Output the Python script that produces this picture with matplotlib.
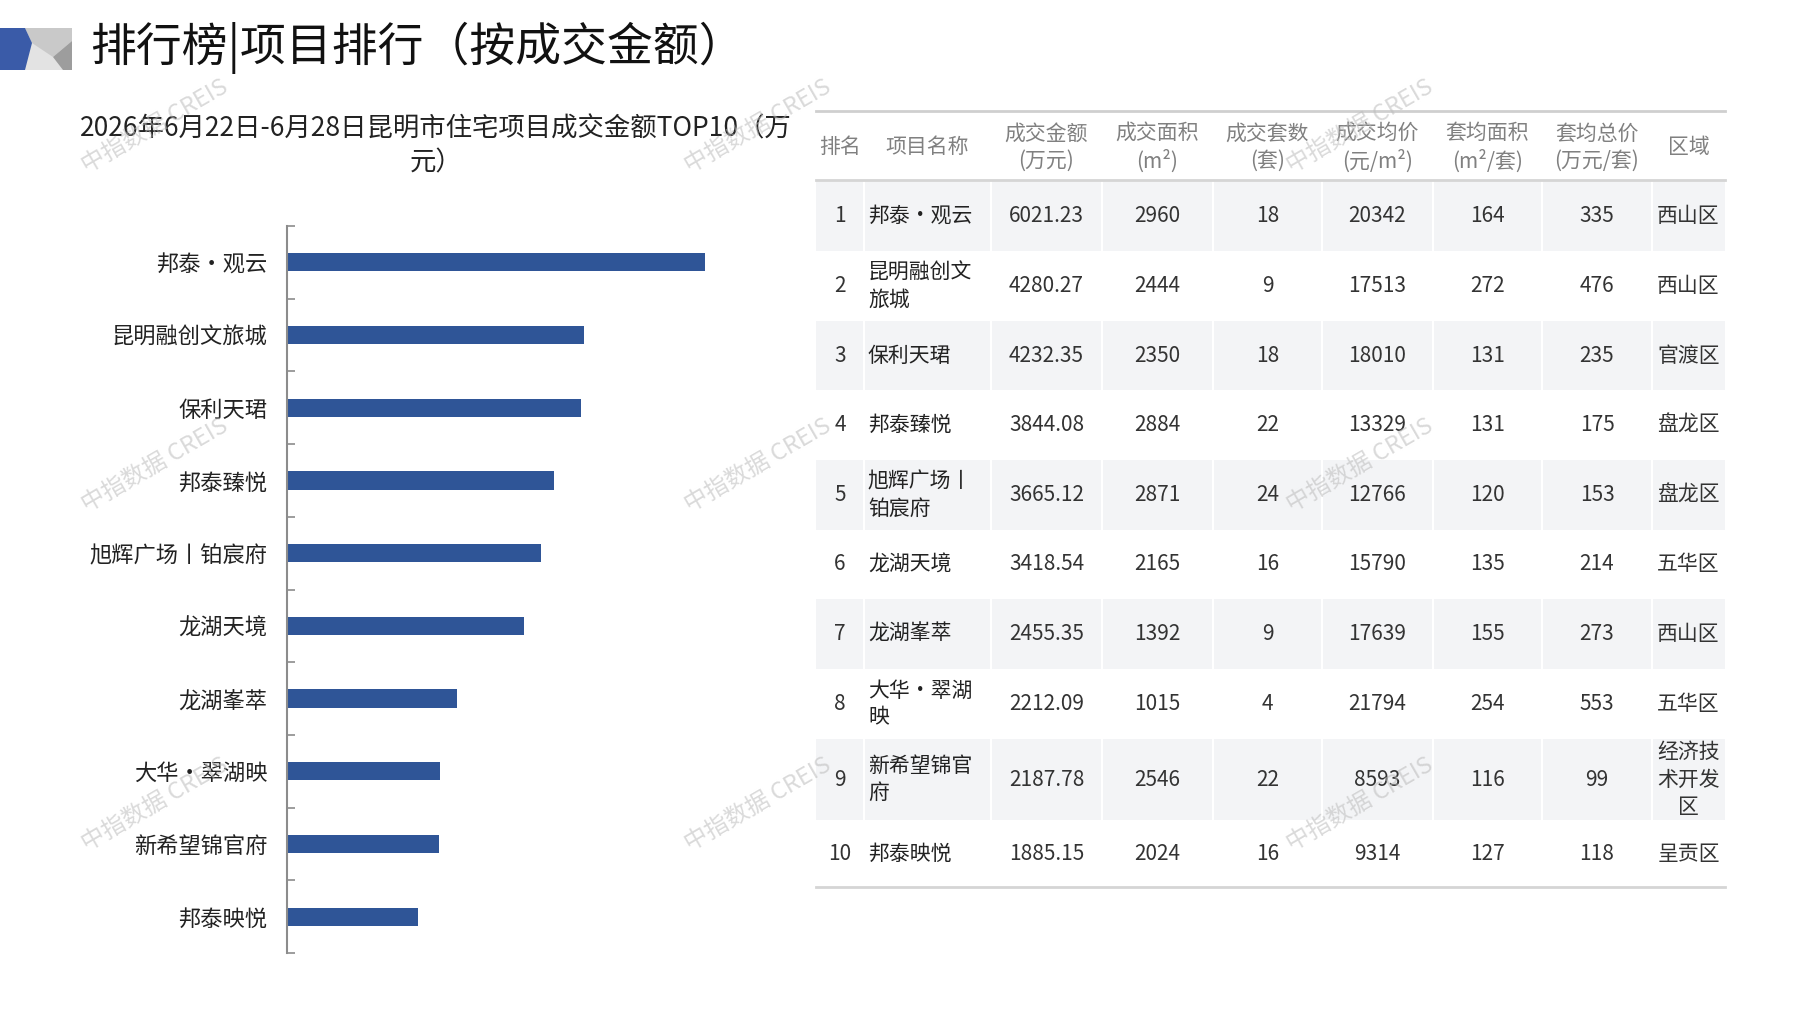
import numpy as np
import matplotlib
matplotlib.use('Agg')
import matplotlib.pyplot as plt
from matplotlib.patches import Polygon, Rectangle

plt.rcParams['font.family'] = ['Noto Sans CJK SC', 'DejaVu Sans']

# data
names = ['邦泰·观云', '昆明融创文旅城', '保利天珺', '邦泰臻悦', '旭辉广场丨铂宸府',
         '龙湖天境', '龙湖峯萃', '大华·翠湖映', '新希望锦官府', '邦泰映悦']
amount = [6021.23, 4280.27, 4232.35, 3844.08, 3665.12, 3418.54, 2455.35, 2212.09, 2187.78, 1885.15]
area = [2960, 2444, 2350, 2884, 2871, 2165, 1392, 1015, 2546, 2024]
units = [18, 9, 18, 22, 24, 16, 9, 4, 22, 16]
price = [20342, 17513, 18010, 13329, 12766, 15790, 17639, 21794, 8593, 9314]
avg_area = [164, 272, 131, 131, 120, 135, 155, 254, 116, 127]
avg_total = [335, 476, 235, 175, 153, 214, 273, 553, 99, 118]
district = ['西山区', '西山区', '官渡区', '盘龙区', '盘龙区', '五华区', '西山区', '五华区', '经济技术开发区', '呈贡区']

headers = ['排名', '项目名称', '成交金额\n(万元)', '成交面积\n(m²)', '成交套数\n(套)',
           '成交均价\n(元/m²)', '套均面积\n(m²/套)', '套均总价\n(万元/套)', '区域']

title = '排行榜|项目排行（按成交金额）'
chart_title = '2026年6月22日-6月28日昆明市住宅项目成交金额TOP10（万\n元）'

W, H = 1797, 1010
fig = plt.figure(figsize=(W / 100, H / 100), dpi=100)


def wrap(s, n):
    return '\n'.join(s[i:i + n] for i in range(0, len(s), n))


# ---- bar chart ----
ax_l, ax_t, ax_r, ax_b = 287, 226, 790, 953
ax = fig.add_axes([ax_l / W, 1 - ax_b / H, (ax_r - ax_l) / W, (ax_b - ax_t) / H])
y = np.arange(len(names))
ax.barh(y, amount, height=0.25, color='#2F5597')
ax.set_xlim(0, 7250)
ax.set_ylim(9.5, -0.5)
for s in ['top', 'right', 'bottom']:
    ax.spines[s].set_visible(False)
ax.spines['left'].set_color('#8c8c8c')
ax.spines['left'].set_linewidth(1.5)
ax.set_xticks([])
ax.set_yticks(np.arange(-0.5, 10, 1))
ax.set_yticklabels([])
ax.tick_params(axis='y', which='major', direction='in', length=6, width=1.2, color='#8c8c8c')
ax.set_yticks(y, minor=True)
ax.set_yticklabels(names, minor=True, fontsize=16, color='#222222')
ax.tick_params(axis='y', which='minor', length=0, pad=14)

# ---- overlay for header, table and watermark ----
ov = fig.add_axes([0, 0, 1, 1], zorder=5)
ov.set_xlim(0, W)
ov.set_ylim(H, 0)
ov.axis('off')
ov.patch.set_alpha(0)

# logo
ov.add_patch(Polygon([(0, 28), (72, 28), (72, 70), (0, 70)], color='#e3e3e3', lw=0))
ov.add_patch(Polygon([(25, 28), (72, 28), (72, 41), (53, 57), (32, 43)], color='#c9c9c9', lw=0))
ov.add_patch(Polygon([(72, 41), (72, 70), (63, 70), (53, 57)], color='#9d9d9d', lw=0))
ov.add_patch(Polygon([(0, 28), (25, 28), (32, 43), (25, 70), (0, 70)], color='#3A5BA8', lw=0))

ov.text(90, 48, title, fontsize=33, va='center', ha='left', color='#111111')
ov.text(436, 146, chart_title, fontsize=19, ha='center', va='center',
        color='#222222', linespacing=1.3)

# table
col_x = [816, 864, 991, 1102, 1213, 1322, 1433, 1542, 1652, 1725]
row_y = [180, 251, 321, 390, 460, 530, 599, 669, 739, 820, 887]
for i in range(len(names)):
    if i % 2 == 0:
        ov.add_patch(Rectangle((col_x[0], row_y[i]), col_x[-1] - col_x[0],
                               row_y[i + 1] - row_y[i], color='#f3f4f6', lw=0, zorder=1))
for cx in col_x[1:-1]:
    ov.plot([cx, cx], [row_y[0], row_y[-1]], color='white', lw=1.5, zorder=2)
ov.plot([col_x[0], col_x[-1]], [111, 111], color='#cfcfcf', lw=2, zorder=3)
ov.plot([col_x[0], col_x[-1]], [180, 180], color='#d5d5d5', lw=2, zorder=3)
ov.plot([col_x[0], col_x[-1]], [887, 887], color='#d5d5d5', lw=2, zorder=3)

centers = [(col_x[j] + col_x[j + 1]) / 2 for j in range(len(col_x) - 1)]
for j, h in enumerate(headers):
    ov.text(centers[j], 147, h, fontsize=15, ha='center', va='center',
            color='#808080', linespacing=1.3, zorder=4)

for i in range(len(names)):
    yc = (row_y[i] + row_y[i + 1]) / 2
    cells = [str(i + 1), None, f'{amount[i]:.2f}', str(area[i]), str(units[i]),
             str(price[i]), str(avg_area[i]), str(avg_total[i]), wrap(district[i], 3)]
    for j, c in enumerate(cells):
        if c is None:
            continue
        ov.text(centers[j], yc, c, fontsize=15, ha='center', va='center',
                color='#333333', linespacing=1.3, zorder=4)
    ov.text(col_x[1] + 4, yc, wrap(names[i], 5), fontsize=15, ha='left', va='center',
            color='#222222', linespacing=1.3, zorder=4)

# watermark
for wy in [126, 465, 804]:
    for wx in [155, 758, 1360]:
        ov.text(wx, wy, '中指数据 CREIS', fontsize=17, rotation=30, ha='center', va='center',
                color='#bbbbbb', alpha=0.55, zorder=10)

fig.savefig('out.png', dpi=100)
